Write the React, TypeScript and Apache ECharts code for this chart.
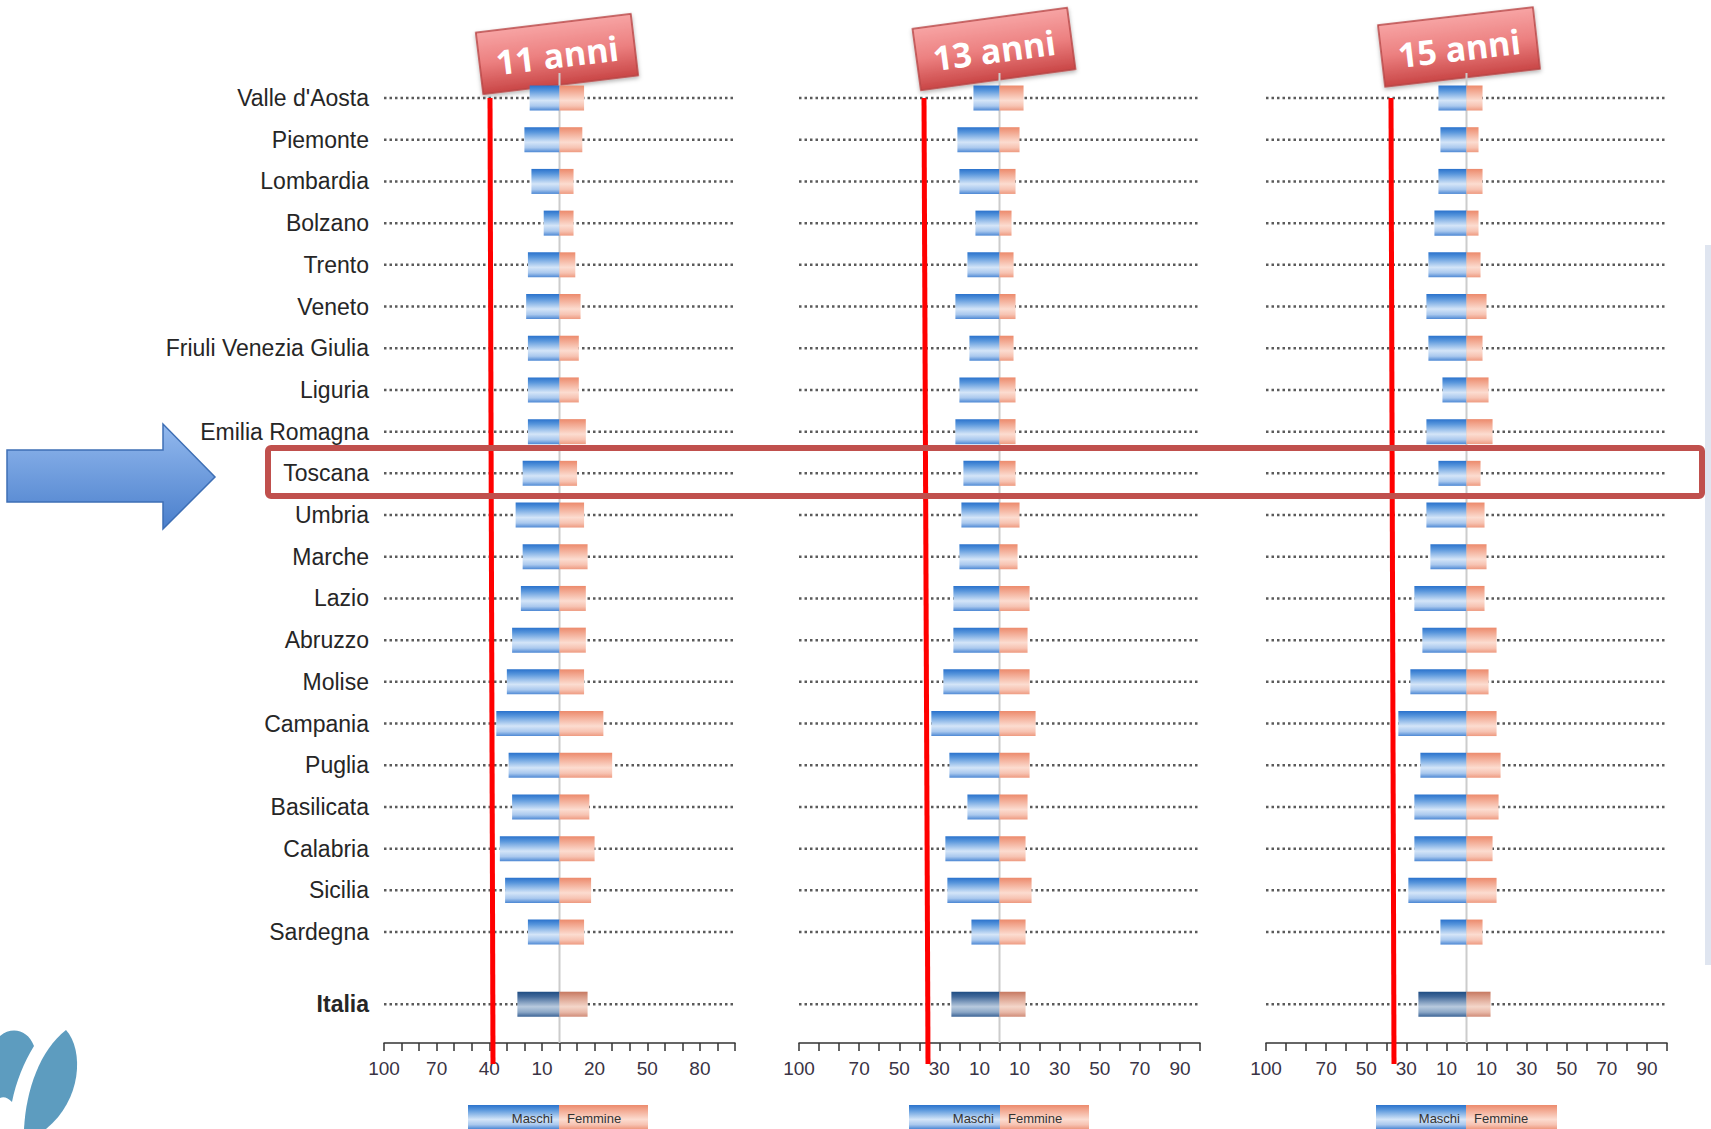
import React, { useEffect, useRef } from 'react';
import * as echarts from 'echarts';

const regions = [
  "Valle d'Aosta", 'Piemonte', 'Lombardia', 'Bolzano', 'Trento', 'Veneto',
  'Friuli Venezia Giulia', 'Liguria', 'Emilia Romagna', 'Toscana', 'Umbria',
  'Marche', 'Lazio', 'Abruzzo', 'Molise', 'Campania', 'Puglia', 'Basilicata',
  'Calabria', 'Sicilia', 'Sardegna', 'Italia',
];

const maschi11 = [17, 20, 16, 9, 18, 19, 18, 18, 18, 21, 25, 21, 22, 27, 30, 36, 29, 27, 34, 31, 18, 24];
const femmine11 = [14, 13, 8, 8, 9, 12, 11, 11, 15, 10, 14, 16, 15, 15, 14, 25, 30, 17, 20, 18, 14, 16];
const maschi13 = [13, 21, 20, 12, 16, 22, 15, 20, 22, 18, 19, 20, 23, 23, 28, 34, 25, 16, 27, 26, 14, 24];
const femmine13 = [12, 10, 8, 6, 7, 8, 7, 8, 8, 8, 10, 9, 15, 14, 15, 18, 15, 14, 13, 16, 13, 13];
const maschi15 = [14, 13, 14, 16, 19, 20, 19, 12, 20, 14, 20, 18, 26, 22, 28, 34, 23, 26, 26, 29, 13, 24];
const femmine15 = [8, 6, 8, 6, 7, 10, 8, 11, 13, 7, 9, 10, 9, 15, 11, 15, 17, 16, 13, 15, 8, 12];

const ticks11 = [-100, -70, -40, -10, 20, 50, 80];
const ticks13 = [-100, -70, -50, -30, -10, 10, 30, 50, 70, 90];
const ticks15 = [-100, -70, -50, -30, -10, 10, 30, 50, 70, 90];

const panelTitles = ['11 anni', '13 anni', '15 anni'];
const legendNames = ['Maschi', 'Femmine'];

const ITALIA_GAP = 1.73;
const rowPos = regions.map((_, i) => (i < regions.length - 1 ? i : i - 1 + ITALIA_GAP));
const Y_MIN = -0.6;
const Y_MAX = 22.66;

const FONT = '"Liberation Sans", Arial, sans-serif';

const blueStops = [
  { offset: 0, color: '#2a72cc' },
  { offset: 0.2, color: '#5896dc' },
  { offset: 0.6, color: '#d4e5f8' },
  { offset: 0.82, color: '#a9c8ee' },
  { offset: 1, color: '#4d88d4' },
];
const salmonStops = [
  { offset: 0, color: '#ec8a6c' },
  { offset: 0.2, color: '#f2a68e' },
  { offset: 0.6, color: '#fcdcd0' },
  { offset: 0.82, color: '#f7c3b2' },
  { offset: 1, color: '#ee9a80' },
];
const blueDarkStops = [
  { offset: 0, color: '#1e4c82' },
  { offset: 0.2, color: '#42699a' },
  { offset: 0.6, color: '#b8cade' },
  { offset: 0.82, color: '#8aa6c6' },
  { offset: 1, color: '#3c6496' },
];
const salmonDarkStops = [
  { offset: 0, color: '#c67860' },
  { offset: 0.2, color: '#d89a86' },
  { offset: 0.6, color: '#f4d6ca' },
  { offset: 0.82, color: '#e8b8a8' },
  { offset: 1, color: '#d08c78' },
];

const lg = (stops: any[]) => ({ type: 'linear', x: 0, y: 0, x2: 0, y2: 1, colorStops: stops });

const panels = [
  { m: maschi11, f: femmine11, ticks: ticks11, left: 384, width: 351 },
  { m: maschi13, f: femmine13, ticks: ticks13, left: 799, width: 401 },
  { m: maschi15, f: femmine15, ticks: ticks15, left: 1266, width: 401 },
];

const titleBoxes = [
  { cx: 557, cy: 54, rot: 0.12 },
  { cx: 994, cy: 49, rot: 0.135 },
  { cx: 1459, cy: 47, rot: 0.115 },
];

const redLines = [
  [490, 98, 493, 1064],
  [924, 98, 928, 1064],
  [1391, 98, 1394, 1064],
];

const legendBoxes = [
  { l: 468, c: 559, r: 648 },
  { l: 909, c: 1000, r: 1089 },
  { l: 1376, c: 1466, r: 1557 },
];

echarts.graphic.registerShape(
  'logoL',
  echarts.graphic.extendPath(
    'M0 1036 C12 1026 28 1030 34 1046 C24 1062 16 1082 12 1102 C8 1098 4 1096 0 1098 Z',
    {}
  )
);
echarts.graphic.registerShape(
  'logoR',
  echarts.graphic.extendPath(
    'M66 1030 C84 1050 82 1100 46 1129 L24 1129 C26 1090 40 1050 66 1030 Z',
    {}
  )
);

export default function App() {
  const ref = useRef<HTMLDivElement>(null);

  useEffect(() => {
    if (!ref.current) return;
    const chart = echarts.init(ref.current, undefined, { renderer: 'svg' });

    const grid: any[] = [];
    const xAxis: any[] = [];
    const yAxis: any[] = [];
    const series: any[] = [];

    panels.forEach((p, k) => {
      grid.push({ left: p.left, width: p.width, top: 73, height: 970 });
      xAxis.push({
        type: 'value',
        gridIndex: k,
        min: -100,
        max: 100,
        interval: 10,
        splitLine: { show: false },
        axisLine: { show: true, onZero: false, lineStyle: { color: '#333', width: 1.5 } },
        axisTick: { show: true, length: 8, lineStyle: { color: '#333', width: 1.5 } },
        axisLabel: {
          margin: 16,
          color: '#3a3344',
          fontSize: 19,
          fontFamily: FONT,
          showMinLabel: true,
          showMaxLabel: true,
          formatter: (v: number) => (p.ticks.indexOf(Math.round(v)) >= 0 ? String(Math.abs(Math.round(v))) : ''),
        },
      });
      yAxis.push({ type: 'value', gridIndex: k, inverse: true, min: Y_MIN, max: Y_MAX, show: false });

      series.push({
        type: 'custom',
        xAxisIndex: k,
        yAxisIndex: k,
        z: 1,
        silent: true,
        data: rowPos.map((y) => [0, y]),
        renderItem: (params: any, api: any) => {
          const y = api.value(1);
          const a = api.coord([-100, y]);
          const b = api.coord([100, y]);
          return {
            type: 'line',
            shape: { x1: a[0], y1: a[1], x2: b[0], y2: b[1] },
            style: { stroke: '#5a5a5a', lineWidth: 2.5, lineDash: [2.5, 3] },
          };
        },
      });
      series.push({
        type: 'custom',
        xAxisIndex: k,
        yAxisIndex: k,
        z: 2,
        silent: true,
        data: [[0, Y_MIN]],
        renderItem: (params: any, api: any) => {
          const a = api.coord([0, Y_MIN]);
          const b = api.coord([0, Y_MAX]);
          return {
            type: 'line',
            shape: { x1: a[0], y1: a[1], x2: b[0], y2: b[1] },
            style: { stroke: '#cccccc', lineWidth: 2 },
          };
        },
      });
      const barRender = (male: boolean) => (params: any, api: any) => {
        const x = api.value(0);
        const y = api.value(1);
        const a = api.coord([0, y]);
        const b = api.coord([x, y]);
        const h = api.size([0, 1])[1] * 0.6;
        const italia = params.dataIndex === regions.length - 1;
        const stops = male ? (italia ? blueDarkStops : blueStops) : italia ? salmonDarkStops : salmonStops;
        return {
          type: 'rect',
          shape: { x: Math.min(a[0], b[0]), y: a[1] - h / 2, width: Math.abs(b[0] - a[0]), height: h },
          style: { fill: new echarts.graphic.LinearGradient(0, 0, 0, 1, stops) },
        };
      };
      series.push({
        type: 'custom',
        name: legendNames[0],
        xAxisIndex: k,
        yAxisIndex: k,
        z: 3,
        data: p.m.map((v, i) => [-v, rowPos[i]]),
        renderItem: barRender(true),
      });
      series.push({
        type: 'custom',
        name: legendNames[1],
        xAxisIndex: k,
        yAxisIndex: k,
        z: 3,
        data: p.f.map((v, i) => [v, rowPos[i]]),
        renderItem: barRender(false),
      });
    });

    series.push({
      type: 'custom',
      xAxisIndex: 0,
      yAxisIndex: 0,
      z: 4,
      silent: true,
      clip: false,
      data: rowPos.map((y) => [-100, y]),
      renderItem: (params: any, api: any) => {
        const pt = api.coord([-100, api.value(1)]);
        const italia = params.dataIndex === regions.length - 1;
        return {
          type: 'text',
          x: pt[0] - 15,
          y: pt[1],
          style: {
            text: regions[params.dataIndex],
            align: 'right',
            verticalAlign: 'middle',
            fontSize: 23,
            fontFamily: FONT,
            fontWeight: italia ? 'bold' : 'normal',
            fill: '#262626',
          },
        };
      },
    });

    const graphic: any[] = [];

    graphic.push({
      type: 'polygon',
      z: 50,
      shape: { points: [[7, 450], [163, 450], [163, 424], [215, 477], [163, 529], [163, 502], [7, 502]] },
      style: { fill: lg([{ offset: 0, color: '#93b9ee' }, { offset: 1, color: '#4a7fcc' }]), stroke: '#3e6fb5', lineWidth: 1.5 },
    });

    redLines.forEach((l) => {
      graphic.push({
        type: 'line',
        z: 60,
        shape: { x1: l[0], y1: l[1], x2: l[2], y2: l[3] },
        style: { stroke: '#ff0000', lineWidth: 5 },
      });
    });

    graphic.push({
      type: 'rect',
      z: 61,
      shape: { x: 268, y: 448, width: 1434, height: 48, r: 3 },
      style: { fill: 'none', stroke: '#c0504d', lineWidth: 6 },
    });

    titleBoxes.forEach((t, k) => {
      graphic.push({
        type: 'group',
        z: 70,
        x: t.cx,
        y: t.cy,
        rotation: t.rot,
        children: [
          {
            type: 'rect',
            shape: { x: -78, y: -31, width: 156, height: 62 },
            style: {
              fill: lg([{ offset: 0, color: '#f7a4a4' }, { offset: 0.5, color: '#ec8080' }, { offset: 1, color: '#c94646' }]),
              stroke: '#b84444',
              lineWidth: 1.5,
              shadowBlur: 4,
              shadowOffsetY: 2,
              shadowColor: 'rgba(0,0,0,0.3)',
            },
          },
          {
            type: 'text',
            x: 0,
            y: 1,
            style: {
              text: panelTitles[k],
              align: 'center',
              verticalAlign: 'middle',
              fontSize: 34,
              fontWeight: 'bold',
              fontFamily: '"Open Sans", sans-serif',
              fill: '#ffffff',
            },
          },
        ],
      });
    });

    legendBoxes.forEach((b) => {
      graphic.push({
        type: 'rect',
        z: 40,
        shape: { x: b.l, y: 1105, width: b.c - b.l, height: 24 },
        style: { fill: lg(blueStops) },
      });
      graphic.push({
        type: 'rect',
        z: 40,
        shape: { x: b.c, y: 1105, width: b.r - b.c, height: 24 },
        style: { fill: lg(salmonStops) },
      });
      graphic.push({
        type: 'text',
        z: 41,
        x: b.c - 6,
        y: 1118,
        style: { text: legendNames[0], align: 'right', verticalAlign: 'middle', fontSize: 13, fontFamily: FONT, fill: '#333' },
      });
      graphic.push({
        type: 'text',
        z: 41,
        x: b.c + 8,
        y: 1118,
        style: { text: legendNames[1], align: 'left', verticalAlign: 'middle', fontSize: 13, fontFamily: FONT, fill: '#333' },
      });
    });

    graphic.push({ type: 'logoL', z: 30, x: 0, y: 0, scaleX: 1, scaleY: 1, style: { fill: '#5d9cbf' } });
    graphic.push({ type: 'logoR', z: 30, x: 0, y: 0, scaleX: 1, scaleY: 1, style: { fill: '#5d9cbf' } });

    graphic.push({
      type: 'rect',
      z: 20,
      shape: { x: 1705, y: 245, width: 6, height: 720 },
      style: { fill: '#dfe5f0' },
    });

    chart.setOption({
      animation: false,
      backgroundColor: '#ffffff',
      grid,
      xAxis,
      yAxis,
      series,
      graphic,
    });

    return () => chart.dispose();
  }, []);

  return (
    <div
      ref={ref}
      style={{ position: 'fixed', left: 0, top: 0, width: 1711, height: 1129, background: '#fff' }}
    />
  );
}
